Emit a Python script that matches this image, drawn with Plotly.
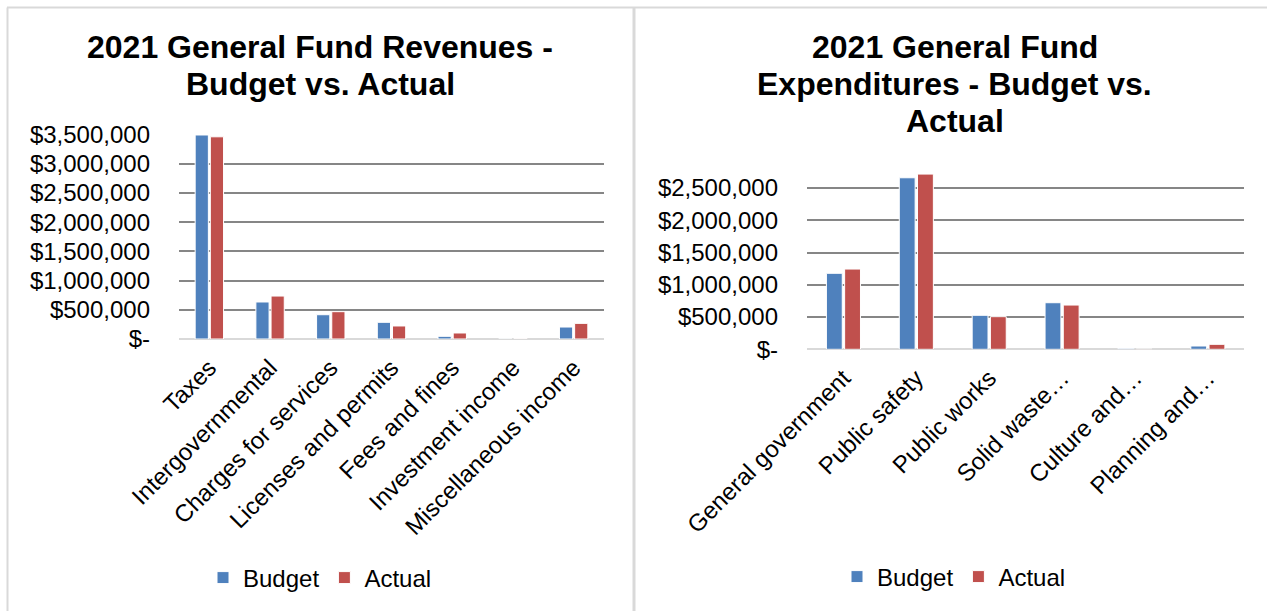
import plotly.graph_objects as go

# ---------------- data ----------------
rev_categories = ["Taxes", "Intergovernmental", "Charges for services",
                  "Licenses and permits", "Fees and fines", "Investment income",
                  "Miscellaneous income"]
rev_budget = [3495000, 634000, 416000, 286000, 46000, 2000, 205000]
rev_actual = [3464000, 736000, 468000, 223000, 103000, 6000, 268000]
rev_tickvals = [0, 500000, 1000000, 1500000, 2000000, 2500000, 3000000, 3500000]
rev_ticktext = ["$-", "$500,000", "$1,000,000", "$1,500,000", "$2,000,000",
                "$2,500,000", "$3,000,000", "$3,500,000"]
rev_title_lines = ["2021 General Fund Revenues -", "Budget vs. Actual"]

exp_categories = ["General government", "Public safety", "Public works",
                  "Solid waste…", "Culture and…", "Planning and…"]
exp_budget = [1178000, 2659000, 527000, 722000, 15000, 51000]
exp_actual = [1244000, 2716000, 506000, 686000, 3000, 77000]
exp_tickvals = [0, 500000, 1000000, 1500000, 2000000, 2500000]
exp_ticktext = ["$-", "$500,000", "$1,000,000", "$1,500,000", "$2,000,000",
                "$2,500,000"]
exp_title_lines = ["2021 General Fund", "Expenditures - Budget vs.", "Actual"]

BLUE = "#4F81BD"
RED = "#C0504D"
FONT = "Arial, Liberation Sans, sans-serif"
W, H = 1267, 611

fig = go.Figure()

fig.add_trace(go.Bar(x=rev_categories, y=rev_budget, name="Budget",
                     marker=dict(color=BLUE, line=dict(color="white", width=1)),
                     xaxis="x", yaxis="y", legend="legend"))
fig.add_trace(go.Bar(x=rev_categories, y=rev_actual, name="Actual",
                     marker=dict(color=RED, line=dict(color="white", width=1)),
                     xaxis="x", yaxis="y", legend="legend"))
fig.add_trace(go.Bar(x=exp_categories, y=exp_budget, name="Budget",
                     marker=dict(color=BLUE, line=dict(color="white", width=1)),
                     xaxis="x2", yaxis="y2", legend="legend2"))
fig.add_trace(go.Bar(x=exp_categories, y=exp_actual, name="Actual",
                     marker=dict(color=RED, line=dict(color="white", width=1)),
                     xaxis="x2", yaxis="y2", legend="legend2"))


def px(x):
    return x / W


def py(y):
    return 1 - y / H


common_y = dict(showgrid=True, gridcolor="#868686", gridwidth=1.6,
                zeroline=True, zerolinecolor="#D9D9D9", zerolinewidth=2,
                showline=False, ticks="", ticklabelstandoff=28, automargin=False,
                tickfont=dict(family=FONT, size=24, color="black"),
                tickmode="array", fixedrange=True)
common_x = dict(showgrid=False, zeroline=False, showline=False, ticks="",
                tickangle=-45, automargin=False, ticklabelstandoff=9,
                tickfont=dict(family=FONT, size=24, color="black"),
                fixedrange=True)

fig.update_layout(
    width=W, height=H,
    margin=dict(l=0, r=0, t=0, b=0, autoexpand=False),
    paper_bgcolor="white", plot_bgcolor="white",
    barmode="group", bargap=0.5, bargroupgap=0.13,
    font=dict(family=FONT, color="black"),
    xaxis=dict(domain=[px(179), px(604)], anchor="y", **common_x),
    yaxis=dict(domain=[py(339), py(134.7)], anchor="x", range=[0, 3500000],
               tickvals=rev_tickvals, ticktext=rev_ticktext, **common_y),
    xaxis2=dict(domain=[px(807), px(1244.3)], anchor="y2", **common_x),
    yaxis2=dict(domain=[py(349.3), py(171.9)], anchor="x2", range=[0, 2750000],
                tickvals=exp_tickvals, ticktext=exp_ticktext, **common_y),
    legend=dict(orientation="h", x=px(320), y=py(578), xanchor="center",
                yanchor="middle", font=dict(family=FONT, size=24, color="black"),
                bgcolor="rgba(0,0,0,0)"),
    legend2=dict(orientation="h", x=px(954), y=py(577), xanchor="center",
                 yanchor="middle", font=dict(family=FONT, size=24, color="black"),
                 bgcolor="rgba(0,0,0,0)"),
    showlegend=True,
)

# titles, one annotation per line (tighter line spacing than plotly's default)
for line, ypix in zip(rev_title_lines, [47.5, 84]):
    fig.add_annotation(text="<b>%s</b>" % line, x=px(320), y=py(ypix),
                       xref="paper", yref="paper", xanchor="center",
                       yanchor="middle", showarrow=False,
                       font=dict(family=FONT, size=32, color="black"))
for line, ypix in zip(exp_title_lines, [47.5, 84, 121]):
    fig.add_annotation(text="<b>%s</b>" % line, x=px(954.5), y=py(ypix),
                       xref="paper", yref="paper", xanchor="center",
                       yanchor="middle", showarrow=False,
                       font=dict(family=FONT, size=32, color="black"))

# panel borders
border = dict(color="#D9D9D9", width=2)
fig.add_shape(type="line", xref="paper", yref="paper", x0=px(7), x1=1,
              y0=py(7.5), y1=py(7.5), line=border)
fig.add_shape(type="line", xref="paper", yref="paper", x0=px(7.5), x1=px(7.5),
              y0=py(7.5), y1=0, line=border)
fig.add_shape(type="line", xref="paper", yref="paper", x0=px(634), x1=px(634),
              y0=py(7.5), y1=0, line=dict(color="#D9D9D9", width=3))

fig.write_html("out.html", config={"displayModeBar": False},
               post_script="document.body.style.margin='0';"
                           "document.body.style.overflow='hidden';")
